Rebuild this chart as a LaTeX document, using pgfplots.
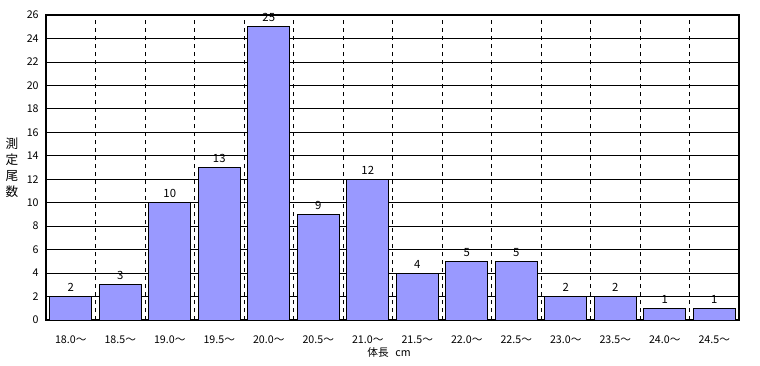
\documentclass[border=0pt]{standalone}
\usepackage{fontspec}
\setmainfont{Noto Sans CJK JP}
\usepackage{pgfplots}
\pgfplotsset{compat=1.18}
\definecolor{barblue}{HTML}{9999FF}
\begin{document}
\begin{tikzpicture}
\path[use as bounding box] (-34.5pt,-33.75pt) rectangle (535.5pt,240pt);
\begin{axis}[
  at={(0,0)}, anchor=south west,
  scale only axis, width=519.75pt, height=228.75pt,
  /pgf/number format/assume math mode=true,
  xmin=-0.5, xmax=13.5, ymin=0, ymax=26,
  xtick={0,...,13},
  xticklabels={18.0～,18.5～,19.0～,19.5～,20.0～,20.5～,21.0～,21.5～,22.0～,22.5～,23.0～,23.5～,24.0～,24.5～},
  minor xtick={0.5,1.5,...,12.5},
  xminorgrids, minor x grid style={black, dashed, line width=0.6pt},
  ytick={0,2,...,26},
  ymajorgrids, major y grid style={black, line width=0.6pt},
  major tick length=0pt, minor tick length=0pt,
  axis line style={black, line width=0.8pt},
  tick label style={font=\fontsize{8}{9}\selectfont},
  xticklabel style={yshift=-8pt},
  yticklabel style={xshift=-2pt},
  xlabel={体長\hspace{5pt}cm},
  xlabel style={font=\fontsize{8}{9}\selectfont, at={(axis description cs:0.495,0)}, anchor=center, yshift=-24pt},
  nodes near coords,
  every node near coord/.append style={font=\fontsize{8.5}{9}\selectfont, /pgf/number format/assume math mode=true},
]
\addplot[ybar, bar width=0.85, fill=barblue, draw=black, line width=0.7pt] coordinates {
(0,2) (1,3) (2,10) (3,13) (4,25) (5,9) (6,12) (7,4) (8,5) (9,5) (10,2) (11,2) (12,1) (13,1)
};
\end{axis}
\node[align=center, font=\fontsize{9.5}{12}\selectfont] at ([xshift=-25.5pt]current axis.west) {測\\定\\尾\\数};
\end{tikzpicture}
\end{document}
